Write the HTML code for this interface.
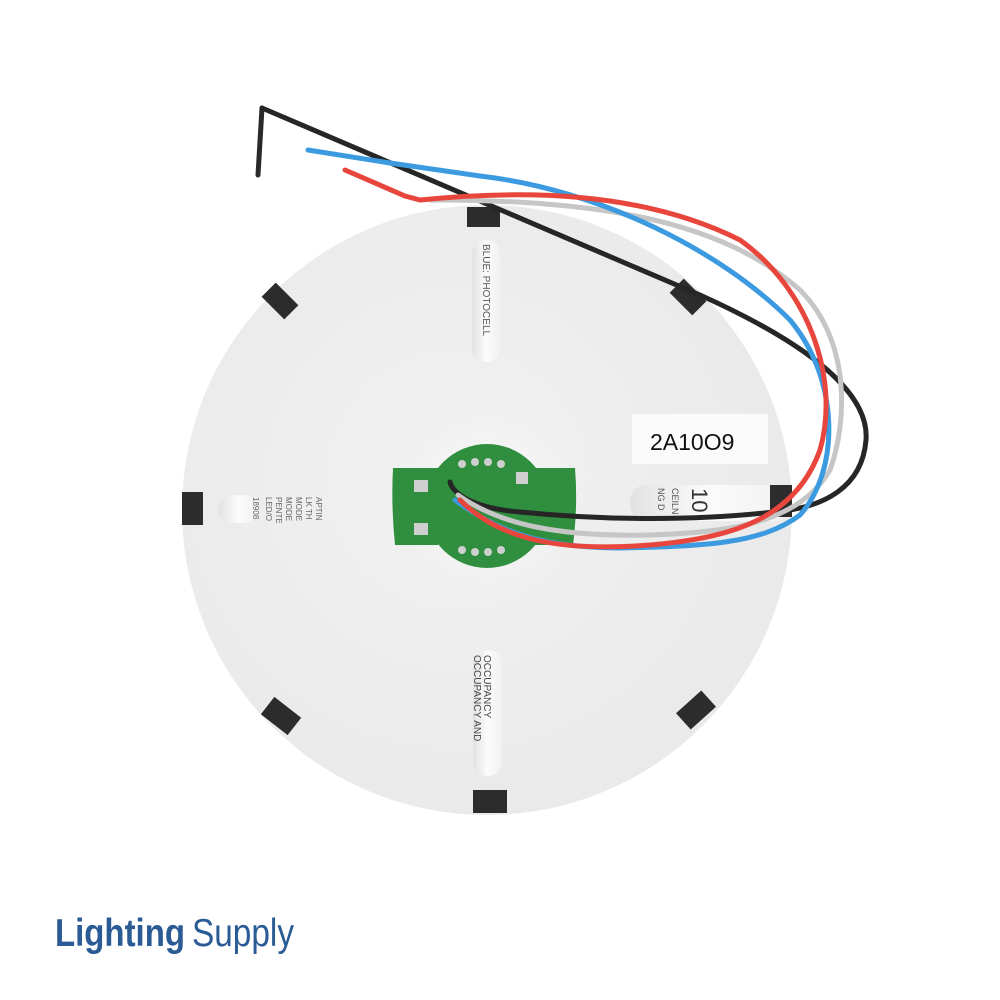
<!DOCTYPE html>
<html><head><meta charset="utf-8"><style>html,body{margin:0;padding:0;background:#fff;width:1000px;height:1000px;overflow:hidden}</style></head>
<body>
<svg width="1000" height="1000" viewBox="0 0 1000 1000" xmlns="http://www.w3.org/2000/svg">
<defs>
<radialGradient id="disc" cx="0.45" cy="0.45" r="0.6">
<stop offset="0" stop-color="#f2f2f2"/><stop offset="1" stop-color="#e9e9e9"/>
</radialGradient>
<radialGradient id="hole" cx="0.5" cy="0.5" r="0.5">
<stop offset="0" stop-color="#fafafa"/><stop offset="1" stop-color="#f0f0f0"/>
</radialGradient>
<linearGradient id="slot" x1="0" x2="1"><stop offset="0" stop-color="#e2e2e2"/><stop offset="0.5" stop-color="#fbfbfb"/><stop offset="1" stop-color="#f1f1f1"/></linearGradient>
</defs>
<circle cx="487" cy="510" r="305" fill="url(#disc)"/>
<circle cx="487" cy="500" r="88" fill="url(#hole)"/>
<!-- slots -->
<rect x="472" y="240" width="28" height="122" rx="14" fill="url(#slot)"/>
<rect x="473" y="650" width="29" height="126" rx="14" fill="url(#slot)"/>
<rect x="218" y="495" width="40" height="28" rx="14" fill="url(#slot)"/>
<rect x="630" y="485" width="160" height="36" rx="16" fill="url(#slot)"/>
<!-- slot text -->
<text transform="translate(483,244) rotate(90)" font-family="Liberation Sans, sans-serif" font-size="10" fill="#555">BLUE:  PHOTOCELL</text>
<text transform="translate(484,655) rotate(90)" font-family="Liberation Sans, sans-serif" font-size="10" fill="#444">OCCUPANCY</text>
<text transform="translate(474,655) rotate(90)" font-family="Liberation Sans, sans-serif" font-size="10" fill="#444">OCCUPANCY AND</text>
<text transform="translate(266,497) rotate(90)" font-family="Liberation Sans, sans-serif" font-size="8" fill="#666">LED/O</text>
<text transform="translate(276,497) rotate(90)" font-family="Liberation Sans, sans-serif" font-size="8" fill="#666">PENTE</text>
<text transform="translate(286,497) rotate(90)" font-family="Liberation Sans, sans-serif" font-size="8" fill="#666">MODE</text>
<text transform="translate(296,497) rotate(90)" font-family="Liberation Sans, sans-serif" font-size="8" fill="#666">MODE</text>
<text transform="translate(306,497) rotate(90)" font-family="Liberation Sans, sans-serif" font-size="8" fill="#666">LK TH</text>
<text transform="translate(316,497) rotate(90)" font-family="Liberation Sans, sans-serif" font-size="8" fill="#666">APTIN</text>
<text transform="translate(253,497) rotate(90)" font-family="Liberation Sans, sans-serif" font-size="8" fill="#666">18908</text>
<text transform="translate(672,488) rotate(90)" font-family="Liberation Sans, sans-serif" font-size="9" fill="#555">CEILN</text>
<text transform="translate(658,488) rotate(90)" font-family="Liberation Sans, sans-serif" font-size="9" fill="#555">NG D</text>
<text transform="translate(692,488) rotate(90)" font-family="Liberation Sans, sans-serif" font-size="22" fill="#333">10</text>
<!-- label -->
<rect x="632" y="414" width="136" height="50" fill="#fbfbfb"/>
<text x="650" y="450" font-family="Liberation Sans, sans-serif" font-size="23" fill="#111">2A10O9</text>
<!-- clips -->
<g fill="#2c2c2c">
<rect x="467" y="207" width="33" height="20"/>
<rect x="473" y="790" width="34" height="23"/>
<rect x="182" y="492" width="21" height="33"/>
<rect x="770" y="485" width="22" height="32"/>
<rect x="-16" y="-10" width="32" height="20" transform="translate(280,301) rotate(45)"/>
<rect x="-16" y="-10" width="32" height="20" transform="translate(688,297) rotate(45)"/>
<rect x="-17" y="-11" width="34" height="22" transform="translate(281,716) rotate(38)"/>
<rect x="-17" y="-11" width="34" height="22" transform="translate(696,710) rotate(-42)"/>
</g>
<!-- PCB -->
<g fill="#2f8f3f">
<circle cx="487" cy="506" r="62"/>
<path d="M393,468 L438,468 L445,500 L438,545 L395,545 Q391,506 393,468Z"/>
<path d="M535,468 L575,468 Q578,506 573,545 L535,545 Z"/>
</g>
<g fill="#cfcfcf">
<rect x="414" y="480" width="14" height="12"/><rect x="414" y="523" width="14" height="12"/>
<rect x="516" y="472" width="12" height="12"/>
<circle cx="462" cy="464" r="4"/><circle cx="475" cy="462" r="4"/><circle cx="488" cy="462" r="4"/><circle cx="501" cy="464" r="4"/>
<circle cx="462" cy="550" r="4"/><circle cx="475" cy="552" r="4"/><circle cx="488" cy="552" r="4"/><circle cx="501" cy="550" r="4"/>
</g>
<!-- wires -->
<g fill="none" stroke-linecap="round">
<path d="M262,108 L258,175" stroke="#2a2a2a" stroke-width="5"/>
<path d="M262,108 L700,295 C800,340 870,390 866,440 C862,490 820,505 790,510 C700,522 600,520 520,512 C470,508 452,492 450,482" stroke="#262626" stroke-width="5"/>
<path d="M430,200 C600,200 720,220 800,290 C850,340 848,420 830,470 C800,520 740,532 650,535 C560,537 500,525 458,495" stroke="#c6c6c6" stroke-width="5"/>
<path d="M308,150 L390,163 L480,176 C600,190 720,250 790,320 C840,380 840,470 800,515 C760,545 700,546 620,548 C540,548 495,530 455,500" stroke="#3c9be0" stroke-width="5"/>
<path d="M345,170 L405,196 L420,200 C520,190 640,190 740,240 C810,290 840,380 820,450 C795,520 730,538 650,545 C560,552 500,540 460,500" stroke="#e8463c" stroke-width="5"/>
</g>
<!-- logo -->
<text x="55" y="946" font-family="Liberation Sans, sans-serif" font-size="39" font-weight="bold" fill="#2a5b95" textLength="130" lengthAdjust="spacingAndGlyphs">Lighting</text>
<text x="192" y="946" font-family="Liberation Sans, sans-serif" font-size="39" fill="#2a5b95" textLength="102" lengthAdjust="spacingAndGlyphs">Supply</text>
</svg>
</body></html>
